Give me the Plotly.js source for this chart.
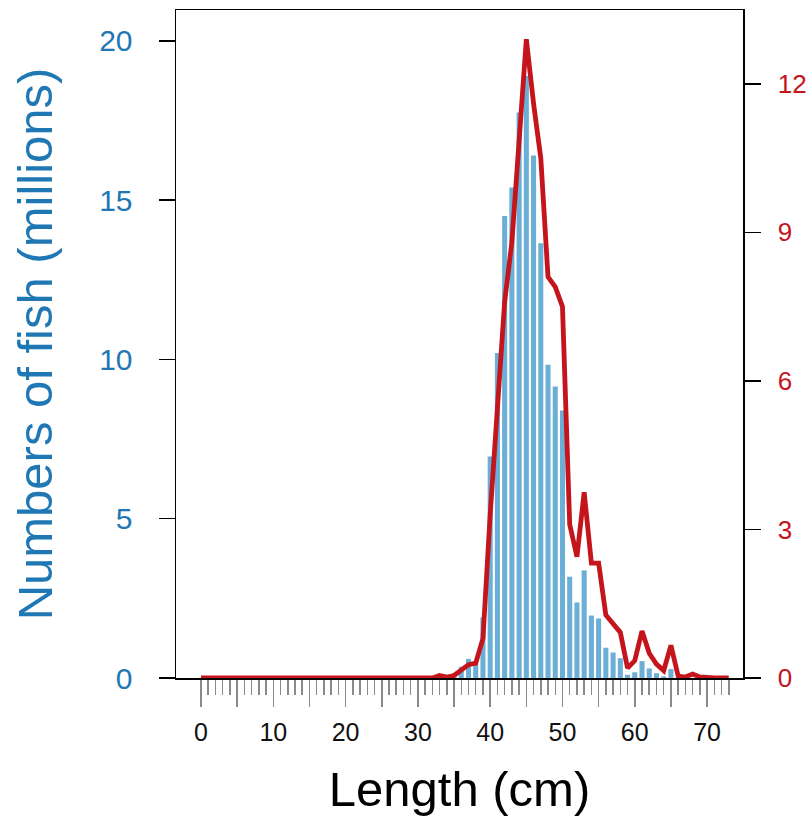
<!DOCTYPE html>
<html>
<head>
<meta charset="utf-8">
<script src="https://cdn.plot.ly/plotly-3.0.1.min.js"></script>
<style>html,body{margin:0;padding:0;background:#fff}#chart{width:812px;height:816px}</style>
</head>
<body>
<div id="chart"></div>
<script>
// Length classes (cm)
const lengths = [];
for (let i = 0; i <= 73; i++) lengths.push(i);

// Numbers of fish (millions) per length class, left axis (bars)
const numbers = [
  0,0,0,0,0,0,0,0,0,0,            // 0-9
  0,0,0,0,0,0,0,0,0,0,            // 10-19
  0,0,0,0,0,0,0,0,0,0,            // 20-29
  0,0,0,0,0,0.05,0.35,0.6,0.45,1.9, // 30-39
  6.95,10.2,14.5,15.4,17.75,18.9,16.4,13.65,9.83,9.15, // 40-49
  8.4,3.18,2.37,3.38,1.96,1.87,0.95,0.8,0.62,0.1,      // 50-59
  0.18,0.53,0.3,0.15,0.05,0.28,0,0,0,0,                // 60-69
  0,0,0,0                                              // 70-73
];

// Second series, right axis (red line)
const lineValues = [
  0,0,0,0,0,0,0,0,0,0,
  0,0,0,0,0,0,0,0,0,0,
  0,0,0,0,0,0,0,0,0,0,
  0,0,0,0.05,0.02,0.05,0.15,0.27,0.3,0.8,
  3.3,5.6,7.6,8.8,11.0,12.9,11.6,10.5,8.1,7.9,
  7.5,3.1,2.45,3.75,2.32,2.32,1.27,1.1,0.92,0.2,
  0.35,0.95,0.5,0.28,0.15,0.66,0.04,0.02,0.08,0.02,
  0,0,0,0
];

const majorTicks = [0,5,10,15,20,25,30,35,40,45,50,55,60,65,70];
const majorText = majorTicks.map(v => (v % 10 === 0 ? String(v) : ''));
const minorTicks = lengths.filter(v => v % 5 !== 0);

const leftTicks = [0,5,10,15,20];
const rightTicks = [0,3,6,9,12];

const BLUE = '#1f78b4';
const RED = '#c4141c';
const FONT = 'Liberation Sans, Arial, Helvetica, sans-serif';

const traces = [
  {
    type: 'bar', x: lengths, y: numbers, yaxis: 'y',
    width: 0.7, marker: {color: '#6baed6', line: {width: 0}},
    hoverinfo: 'skip'
  },
  {
    type: 'scatter', mode: 'lines', x: lengths, y: lineValues, yaxis: 'y2',
    line: {color: RED, width: 4.8}, hoverinfo: 'skip'
  }
];

const layout = {
  width: 812, height: 816,
  margin: {l: 176, r: 69, t: 10, b: 138},
  paper_bgcolor: '#fff', plot_bgcolor: '#fff',
  showlegend: false,
  font: {family: FONT},
  xaxis: {
    range: [-3.46, 74.97],
    tickmode: 'array', tickvals: majorTicks, ticktext: majorText,
    ticks: 'outside', ticklen: 27, tickwidth: 1.5, tickcolor: '#8a8a8a',
    minor: {tickmode: 'array', tickvals: minorTicks, ticks: 'outside', ticklen: 15, tickwidth: 1.5, tickcolor: '#8a8a8a', showgrid: false},
    showline: true, linecolor: '#000', linewidth: 1.5, mirror: true,
    showgrid: false, zeroline: false,
    tickfont: {size: 25, color: '#111', family: FONT},
    ticklabelstandoff: 4,
    title: {text: 'Length (cm)', font: {size: 49, color: '#000', family: FONT}, standoff: 28},
    automargin: false
  },
  yaxis: {
    range: [0, 20.97],
    tickmode: 'array', tickvals: leftTicks,
    ticks: 'outside', ticklen: 16, tickwidth: 1.5, tickcolor: '#000',
    showline: true, linecolor: '#000', linewidth: 1.5,
    showgrid: false, zeroline: false,
    tickfont: {size: 30, color: BLUE, family: FONT},
    ticklabelstandoff: 20,
    title: {text: 'Numbers of fish (millions)', font: {size: 49, color: BLUE, family: FONT}, standoff: 31},
    automargin: false
  },
  yaxis2: {
    overlaying: 'y', side: 'right',
    range: [0, 13.49],
    tickmode: 'array', tickvals: rightTicks,
    ticks: 'outside', ticklen: 16, tickwidth: 1.5, tickcolor: '#000',
    showline: true, linecolor: '#000', linewidth: 1.5,
    showgrid: false, zeroline: false,
    tickfont: {size: 26, color: RED, family: FONT},
    ticklabelstandoff: 12,
    automargin: false
  }
};

Plotly.newPlot('chart', traces, layout, {staticPlot: true, displayModeBar: false});
</script>
</body>
</html>
